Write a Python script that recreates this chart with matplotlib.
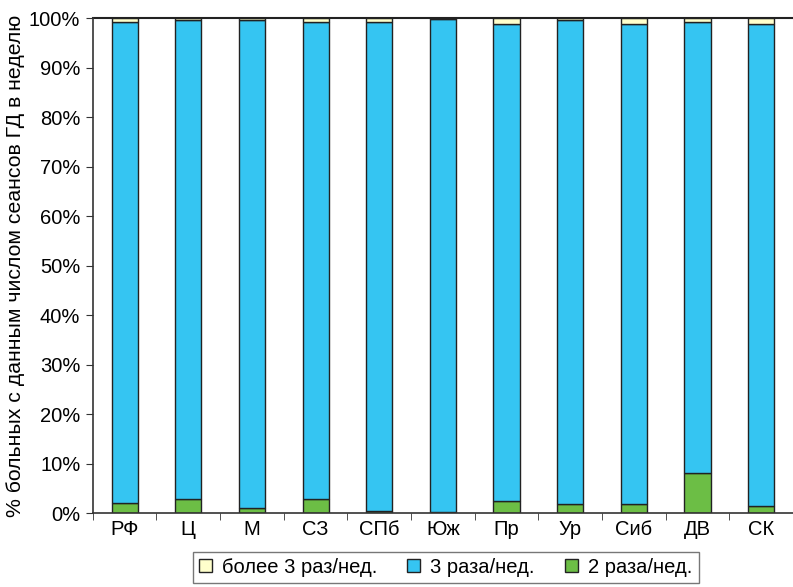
import matplotlib.pyplot as plt
import numpy as np

regions = ['РФ', 'Ц', 'М', 'СЗ', 'СПб', 'Юж', 'Пр', 'Ур', 'Сиб', 'ДВ', 'СК']
two_per_week = [2.0, 2.8, 1.1, 2.8, 0.5, 0.3, 2.4, 1.8, 1.8, 8.0, 1.5]
more_than_three = [0.7, 0.3, 0.3, 0.8, 0.8, 0.2, 1.2, 0.3, 1.1, 0.8, 1.1]
three_per_week = [100 - a - b for a, b in zip(two_per_week, more_than_three)]

plt.rcParams['font.family'] = ['Liberation Sans', 'DejaVu Sans']

fig = plt.figure(figsize=(7.93, 5.87), dpi=100)
ax = fig.add_axes([0.117, 0.126, 0.883, 0.843])

x = np.arange(len(regions))
w = 0.41
edge = dict(edgecolor='#222222', linewidth=1)
b1 = ax.bar(x, two_per_week, w, color='#6cbe45', label='2 раза/нед.', **edge)
b2 = ax.bar(x, three_per_week, w, bottom=two_per_week, color='#35c5f2',
            label='3 раза/нед.', **edge)
bottom3 = [a + b for a, b in zip(two_per_week, three_per_week)]
b3 = ax.bar(x, more_than_three, w, bottom=bottom3, color='#ffffcc',
            label='более 3 раз/нед.', **edge)

ax.set_xlim(-0.5, len(regions) - 0.5)
ax.set_ylim(0, 100)
ax.set_yticks(range(0, 101, 10))
ax.set_yticklabels([f'{v}%' for v in range(0, 101, 10)], fontsize=14.5)
ax.set_xticks(x)
ax.set_xticklabels(regions, fontsize=14.5)
ax.tick_params(axis='x', length=0, pad=5)
ax.set_xticks(np.arange(-0.5, len(regions), 1), minor=True)
ax.tick_params(axis='x', which='minor', length=5, direction='out', color='#333333')
ax.tick_params(axis='y', length=5, direction='out', pad=4, color='#333333')

for s in ['top', 'right']:
    ax.spines[s].set_visible(False)
ax.spines['left'].set_linewidth(1.2)
ax.spines['left'].set_color('#333333')
ax.spines['bottom'].set_linewidth(1.2)
ax.spines['bottom'].set_color('#333333')
ax.axhline(100, color='#222222', linewidth=1.5, clip_on=False)

ax.set_ylabel('% больных с данным числом сеансов ГД в неделю', fontsize=15.3, labelpad=3)

leg = fig.legend(handles=[b3, b2, b1], loc='lower center', bbox_to_anchor=(0.562, -0.01),
                 ncol=3, fontsize=14.5, frameon=True, fancybox=False, handlelength=0.65,
                 handleheight=0.65, handletextpad=0.5, columnspacing=1.5,
                 borderpad=0.3)
leg.get_frame().set_edgecolor('#555555')
leg.get_frame().set_linewidth(1)

fig.savefig('out.png', dpi=100)
